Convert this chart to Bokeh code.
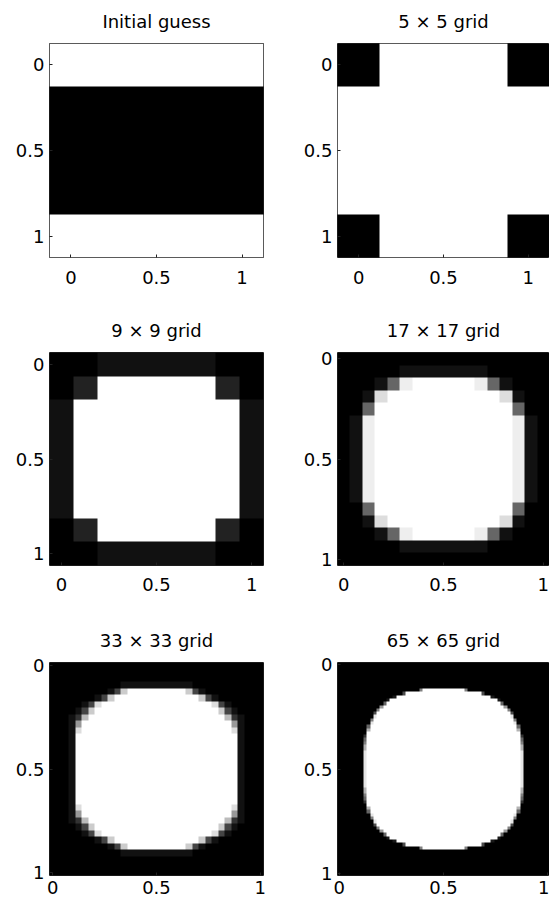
import numpy as np
from bokeh.plotting import figure
from bokeh.layouts import column, row
from bokeh.models import Range1d, FixedTicker, LinearColorMapper
from bokeh.embed import file_html
from bokeh.resources import INLINE

# ---------------- data ----------------
TITLES = ["Initial guess", "5 × 5 grid", "9 × 9 grid",
          "17 × 17 grid", "33 × 33 grid", "65 × 65 grid"]
GRID_N = [5, 5, 9, 17, 33, 65]
TICKS = [0, 0.5, 1]
TICK_LABELS = ["0", "0.5", "1"]

# grey levels as hex digits 0..f  (0 = black, f = white)
INITIAL_GUESS = ["fffff", "00000", "00000", "00000", "fffff"]

GRID5 = ["0fff0", "fffff", "fffff", "fffff", "0fff0"]

GRID9 = [
    "001111100",
    "02fffff20",
    "1fffffff1",
    "1fffffff1",
    "1fffffff1",
    "1fffffff1",
    "1fffffff1",
    "02fffff20",
    "001111100",
]

GRID17 = [
    "00000" "0000000" "00000",
    "00000" "1111111" "00000",
    "00016" "efffffe" "61000",
    "001d" "fffffffff" "d100",
    "006" "fffffffffff" "600",
    "01e" "fffffffffff" "e10",
    "01e" "fffffffffff" "e10",
    "01e" "fffffffffff" "e10",
    "01e" "fffffffffff" "e10",
    "01e" "fffffffffff" "e10",
    "01e" "fffffffffff" "e10",
    "01e" "fffffffffff" "e10",
    "006" "fffffffffff" "600",
    "001d" "fffffffff" "d100",
    "00016" "efffffe" "61000",
    "00000" "1111111" "00000",
    "00000" "0000000" "00000",
]

GRID33 = [
    "0" * 33,
    "0" * 33,
    "0" * 33,
    "0" * 11 + "1" * 11 + "0" * 11,
    "0" * 9 + "14c" + "f" * 9 + "c41" + "0" * 9,
    "0" * 7 + "14c" + "f" * 13 + "c41" + "0" * 7,
    "0" * 5 + "14d" + "f" * 17 + "d41" + "0" * 5,
    "0" * 4 + "14c" + "f" * 19 + "c41" + "0" * 4,
    "0" * 3 + "13b" + "f" * 21 + "b31" + "0" * 3,
    "0" * 3 + "19" + "f" * 23 + "91" + "0" * 3,
    "0" * 3 + "1d" + "f" * 23 + "d1" + "0" * 3,
    "0" * 3 + "1" + "f" * 25 + "1" + "0" * 3,
    "0" * 3 + "1" + "f" * 25 + "1" + "0" * 3,
    "0" * 3 + "1" + "f" * 25 + "1" + "0" * 3,
    "0" * 3 + "1" + "f" * 25 + "1" + "0" * 3,
    "0" * 3 + "1" + "f" * 25 + "1" + "0" * 3,
    "0" * 3 + "1" + "f" * 25 + "1" + "0" * 3,
    "0" * 3 + "1" + "f" * 25 + "1" + "0" * 3,
    "0" * 3 + "1" + "f" * 25 + "1" + "0" * 3,
    "0" * 3 + "1" + "f" * 25 + "1" + "0" * 3,
    "0" * 3 + "1" + "f" * 25 + "1" + "0" * 3,
    "0" * 3 + "1" + "f" * 25 + "1" + "0" * 3,
    "0" * 3 + "1d" + "f" * 23 + "d1" + "0" * 3,
    "0" * 3 + "19" + "f" * 23 + "91" + "0" * 3,
    "0" * 3 + "13b" + "f" * 21 + "b31" + "0" * 3,
    "0" * 4 + "14c" + "f" * 19 + "c41" + "0" * 4,
    "0" * 5 + "14d" + "f" * 17 + "d41" + "0" * 5,
    "0" * 7 + "14c" + "f" * 13 + "c41" + "0" * 7,
    "0" * 9 + "14c" + "f" * 9 + "c41" + "0" * 9,
    "0" * 11 + "1" * 11 + "0" * 11,
    "0" * 33,
    "0" * 33,
    "0" * 33,
]

# 65 x 65 grid: half-width (in cells) of the white region in each row
HW65 = [0, 0, 0, 0, 0, 0, 0, 0,
        7.0, 11.8, 14.6, 16.6, 17.9, 19.1, 20.0, 20.8, 21.4, 22.0,
        22.4, 22.9, 23.2, 23.5, 23.7, 23.9, 24.0, 24.2, 24.2,
        24.4, 24.4, 24.4, 24.4, 24.4, 24.4, 24.4, 24.4, 24.4, 24.4, 24.4,
        24.2, 24.2, 24.0, 23.9, 23.7, 23.5, 23.2, 22.9, 22.4,
        22.0, 21.4, 20.8, 20.0, 19.1, 17.9, 16.6, 14.6, 11.8, 7.0,
        0, 0, 0, 0, 0, 0, 0, 0]


def decode(rows):
    return np.array([[int(ch, 16) / 15.0 for ch in r] for r in rows])


def from_halfwidths(hw, n):
    cols = np.arange(n)
    centre = n / 2.0
    out = np.zeros((n, n))
    for r, h in enumerate(hw):
        a, b = centre - h, centre + h
        out[r] = np.clip(np.minimum(cols + 1, b) - np.maximum(cols, a), 0, 1)
    return out


IMAGES = [decode(INITIAL_GUESS), decode(GRID5), decode(GRID9),
          decode(GRID17), decode(GRID33), from_halfwidths(HW65, 65)]

GRAYS = ["#%02x%02x%02x" % (i, i, i) for i in range(256)]
FONT = "DejaVu Sans"

# layout: (width, min_border_left, min_border_right) per column,
#         (height, min_border_top, min_border_bottom, x-label standoff) per row
COLS = [(290, 49, 27), (259, 47, 0)]
ROWS = [(309, 43, 52, 13), (310, 42, 54, 12), (283, 42, 27, 5)]


def make_panel(idx):
    r, c = divmod(idx, 2)
    w, bl, br = COLS[c]
    h, bt, bb, xstand = ROWS[r]
    n = GRID_N[idx]
    ext = 0.5 / (n - 1)
    lo, hi = -ext, 1 + ext
    p = figure(width=w, height=h, x_range=Range1d(lo, hi), y_range=Range1d(hi, lo),
               output_backend="svg", toolbar_location=None, tools="",
               title=TITLES[idx],
               min_border_left=bl, min_border_right=br,
               min_border_top=bt, min_border_bottom=bb)
    arr = IMAGES[idx]
    k = max(1, int(np.ceil(260 / n)))
    big = np.kron(arr, np.ones((k, k)))
    mapper = LinearColorMapper(palette=GRAYS, low=0, high=1)
    p.image(image=[big], x=lo, y=lo, dw=hi - lo, dh=hi - lo, color_mapper=mapper)

    p.title.text_font = FONT
    p.title.text_font_size = "18px"
    p.title.text_font_style = "normal"
    p.title.text_color = "black"
    p.title.align = "center"
    p.title.vertical_align = "top"
    p.title.standoff = 20

    p.xgrid.visible = False
    p.ygrid.visible = False
    p.background_fill_color = "white"
    p.border_fill_color = "white"
    p.outline_line_color = "#222222"
    p.outline_line_width = 1

    for ax in (p.xaxis[0], p.yaxis[0]):
        ax.ticker = FixedTicker(ticks=TICKS)
        ax.major_label_overrides = dict(zip(TICKS, TICK_LABELS))
        ax.major_label_text_font = FONT
        ax.major_label_text_font_size = "18px"
        ax.major_label_text_color = "black"
        ax.major_tick_in = 3
        ax.major_tick_out = 0
        ax.minor_tick_line_color = None
        ax.major_tick_line_color = "#222222"
        ax.axis_line_color = None
    p.xaxis.major_label_standoff = xstand
    p.yaxis.major_label_standoff = 5
    return p


panels = [make_panel(i) for i in range(6)]
layout = column(row(panels[0], panels[1]),
                row(panels[2], panels[3]),
                row(panels[4], panels[5]))

with open("out.html", "w", encoding="utf-8") as f:
    f.write(file_html(layout, INLINE))
